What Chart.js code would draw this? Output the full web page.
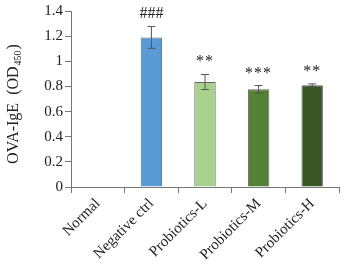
<!DOCTYPE html>
<html>
<head>
<meta charset="utf-8">
<script src="https://cdn.jsdelivr.net/npm/chart.js@4"></script>
<style>
  html, body { margin: 0; padding: 0; background: #fff; }
  #wrap { width: 344px; height: 273px; position: relative; }
</style>
</head>
<body>
<div id="wrap"><canvas id="igeChart"></canvas></div>
<script>
// data
const groups = ["Normal", "Negative ctrl", "Probiotics-L", "Probiotics-M", "Probiotics-H"];
const means = [null, 1.19, 0.835, 0.777, 0.81];
const errors = [null, 0.087, 0.06, 0.03, 0.01];
const marks = ["", "###", "**", "***", "**"];
const barColors = ["#5B9BD5", "#5B9BD5", "#A9D18E", "#548235", "#375623"];
const yTicks = [0, 0.2, 0.4, 0.6, 0.8, 1, 1.2, 1.4];

const serif = '"Liberation Serif", "Times New Roman", serif';

/* error bars + significance marks */
const errorBars = {
    id: "errorBars",
    afterDatasetsDraw(chart) {
        const ctx = chart.ctx;
        const y = chart.scales.y;
        const meta = chart.getDatasetMeta(0);
        ctx.save();
        meta.data.forEach((bar, i) => {
            if (means[i] == null) return;
            const x = bar.x;
            const top = y.getPixelForValue(means[i] + errors[i]);
            const bot = y.getPixelForValue(means[i] - errors[i]);
            ctx.strokeStyle = "#555";
            ctx.lineWidth = 1;
            ctx.beginPath();
            ctx.moveTo(x, top); ctx.lineTo(x, bot);
            ctx.moveTo(x - 4, top); ctx.lineTo(x + 4, top);
            ctx.moveTo(x - 4, bot); ctx.lineTo(x + 4, bot);
            ctx.stroke();
            if (marks[i]) {
                ctx.fillStyle = "#222";
                ctx.font = "16px " + serif;
                ctx.letterSpacing = marks[i][0] == "*" ? "1px" : "0px";
                ctx.textAlign = "center";
                ctx.textBaseline = "alphabetic";
                ctx.fillText(marks[i], x, top - 8);
            }
        });
        ctx.restore();
    }
};

/* rotated y title with subscript */
const yTitle = {
    id: "yTitle",
    afterDraw(chart) {
        const ctx = chart.ctx;
        const area = chart.chartArea;
        const main = "OVA-IgE  (OD";
        const sub = "450";
        const end = ")";
        ctx.save();
        ctx.fillStyle = "#222";
        ctx.font = "16px " + serif;
        const w1 = ctx.measureText(main).width;
        const w3 = ctx.measureText(end).width;
        ctx.font = "10px " + serif;
        const w2 = ctx.measureText(sub).width;
        const total = w1 + w2 + w3;
        ctx.translate(18, (area.top + area.bottom) / 2 + 6);
        ctx.rotate(-Math.PI / 2);
        ctx.textBaseline = "alphabetic";
        ctx.textAlign = "left";
        let cx = -total / 2;
        ctx.font = "16px " + serif;
        ctx.fillText(main, cx, 0);
        cx += w1;
        ctx.font = "10px " + serif;
        ctx.fillText(sub, cx + 1, 3);
        cx += w2 + 2;
        ctx.font = "16px " + serif;
        ctx.fillText(end, cx, 0);
        ctx.restore();
    }
};

new Chart(document.getElementById("igeChart"), {
    type: "bar",
    data: {
        labels: groups,
        datasets: [{
            data: means,
            backgroundColor: barColors,
            borderColor: "#666",
            borderWidth: 1,
            categoryPercentage: 1,
            barPercentage: 0.4
        }]
    },
    options: {
        responsive: true,
        maintainAspectRatio: false,
        animation: false,
        layout: { padding: { top: 9, right: 5, left: 0, bottom: 0 } },
        plugins: {
            legend: { display: false },
            tooltip: { enabled: false }
        },
        scales: {
            x: {
                afterFit(scale) { scale.height = 86; },
                border: { color: "#777", width: 1 },
                grid: {
                    offset: true,
                    drawOnChartArea: false,
                    drawTicks: true,
                    tickLength: 6,
                    color: "#777"
                },
                ticks: {
                    color: "#222",
                    font: { family: serif, size: 15 },
                    maxRotation: 45,
                    minRotation: 45,
                    padding: 2
                }
            },
            y: {
                min: 0,
                max: 1.4,
                afterFit(scale) { scale.width = 71; },
                afterBuildTicks(scale) {
                    scale.ticks = yTicks.map(v => ({ value: v }));
                },
                border: { color: "#777", width: 1 },
                grid: {
                    drawOnChartArea: false,
                    tickLength: 6,
                    color: "#777"
                },
                ticks: {
                    color: "#222",
                    font: { family: serif, size: 15 },
                    padding: 2,
                    callback: v => String(v)
                }
            }
        }
    },
    plugins: [errorBars, yTitle]
});
</script>
</body>
</html>
